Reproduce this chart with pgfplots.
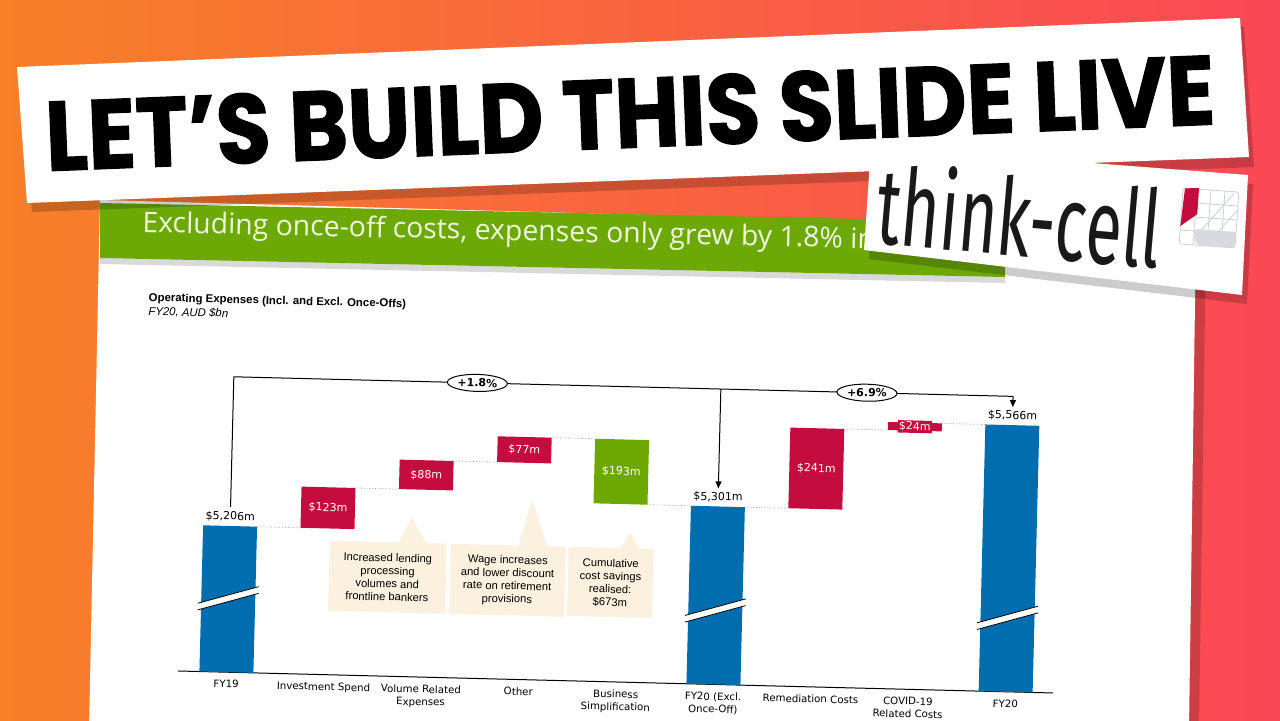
\documentclass[border=0pt]{standalone}
\usepackage{pgfplots}
\pgfplotsset{compat=1.18}
\usepackage{pgfplotstable}
\usepackage{fontspec}
\usetikzlibrary{arrows.meta,shapes.geometric}
\newfontfamily\dv{DejaVu Sans}
\newfontfamily\ls{Liberation Sans}
\newfontfamily\heavy{Poppins}[FakeBold=1.3]
\newfontfamily\fira{Fira Sans}
\newfontfamily\osans{Open Sans}
\definecolor{tcblue}{RGB}{0,109,175}
\definecolor{tcred}{RGB}{197,12,62}
\definecolor{tcgreen}{RGB}{108,168,0}
\definecolor{beige}{RGB}{252,241,222}
\definecolor{bannergreen}{RGB}{108,168,6}
\definecolor{greentext}{RGB}{238,246,220}
\definecolor{bgorange}{RGB}{248,128,40}
\definecolor{bgred}{RGB}{250,72,86}
\definecolor{logogray}{RGB}{205,208,214}
\pgfplotstableread{
x base tot inc dec
0 0 5206 0 0
1 5206 0 123 0
2 5329 0 88 0
3 5417 0 77 0
4 5301 0 0 193
5 0 5301 0 0
6 5301 0 241 0
7 5542 0 24 0
8 0 5566 0 0
}\wf
\pgfplotsset{wfgeom/.style={
  at={(0,0)}, anchor=south west,
  scale only axis, width=437.6pt, height=155.8pt,
  xmin=-0.497, xmax=8.485, ymin=4769, ymax=5700}}
\newsavebox\chartbox
\begin{document}%
\sbox\chartbox{%
\begin{tikzpicture}[x=0.5pt,y=0.5pt]
\path (-60,-50) rectangle (900,400);
\begin{axis}[
  wfgeom,
  ybar stacked, bar width=0.554,
  axis x line*=bottom, axis y line=none,
  x axis line style={-,black,line width=0.5pt},
  xtick={0,...,8},
  xticklabels={FY19, Investment Spend, {Volume Related\\Expenses}, Other, {Business\\Simplification}, {FY20 (Excl.\\Once-Off)}, Remediation Costs, {COVID-19\\Related Costs}, FY20},
  major tick length=0pt,
  xticklabel style={font={\dv\fontsize{5.1}{6.3}\selectfont}, align=center, anchor=north, yshift=-0.5pt},
  ytick=\empty,
]
\addplot[draw=none, fill=none] table[x=x,y=base]{\wf};
\addplot[draw=none, fill=tcblue] table[x=x,y=tot]{\wf};
\addplot[draw=none, fill=tcred] table[x=x,y=inc]{\wf};
\addplot[draw=none, fill=tcgreen] table[x=x,y=dec]{\wf};
\end{axis}
\begin{axis}[wfgeom, hide axis]
\addplot[draw=none] coordinates {(0,5000)};
% connectors
\draw[gray!75, densely dotted, line width=0.4pt] (axis cs:0.277,5206) -- (axis cs:0.723,5206);
\draw[gray!75, densely dotted, line width=0.4pt] (axis cs:1.277,5329) -- (axis cs:1.723,5329);
\draw[gray!75, densely dotted, line width=0.4pt] (axis cs:2.277,5417) -- (axis cs:2.723,5417);
\draw[gray!75, densely dotted, line width=0.4pt] (axis cs:3.277,5494) -- (axis cs:3.723,5494);
\draw[gray!75, densely dotted, line width=0.4pt] (axis cs:4.277,5301) -- (axis cs:4.723,5301);
\draw[gray!75, densely dotted, line width=0.4pt] (axis cs:5.277,5301) -- (axis cs:5.723,5301);
\draw[gray!75, densely dotted, line width=0.4pt] (axis cs:6.277,5542) -- (axis cs:6.723,5542);
\draw[gray!75, densely dotted, line width=0.4pt] (axis cs:7.277,5566) -- (axis cs:7.723,5566);
% axis breaks
\fill[white] (axis cs:-0.31,4953) -- (axis cs:0.31,5007) -- (axis cs:0.31,5027) -- (axis cs:-0.31,4973) -- cycle;
\draw[black,line width=0.4pt] (axis cs:-0.31,4953) -- (axis cs:0.31,5007);
\draw[black,line width=0.4pt] (axis cs:-0.31,4973) -- (axis cs:0.31,5027);
\fill[white] (axis cs:4.69,4953) -- (axis cs:5.31,5007) -- (axis cs:5.31,5027) -- (axis cs:4.69,4973) -- cycle;
\draw[black,line width=0.4pt] (axis cs:4.69,4953) -- (axis cs:5.31,5007);
\draw[black,line width=0.4pt] (axis cs:4.69,4973) -- (axis cs:5.31,5027);
\fill[white] (axis cs:7.69,4953) -- (axis cs:8.31,5007) -- (axis cs:8.31,5027) -- (axis cs:7.69,4973) -- cycle;
\draw[black,line width=0.4pt] (axis cs:7.69,4953) -- (axis cs:8.31,5007);
\draw[black,line width=0.4pt] (axis cs:7.69,4973) -- (axis cs:8.31,5027);
% value labels
\node[above, inner sep=2pt, font={\dv\fontsize{5.5}{6}\selectfont}] at (axis cs:0,5206) {\$5,206m};
\node[above, inner sep=2pt, font={\dv\fontsize{5.5}{6}\selectfont}] at (axis cs:5,5301) {\$5,301m};
\node[above, inner sep=2pt, font={\dv\fontsize{5.5}{6}\selectfont}] at (axis cs:8,5566) {\$5,566m};
\node[text=white, font={\dv\fontsize{5.5}{6}\selectfont}] at (axis cs:1,5267.5) {\$123m};
\node[text=white, font={\dv\fontsize{5.5}{6}\selectfont}] at (axis cs:2,5373) {\$88m};
\node[text=white, font={\dv\fontsize{5.5}{6}\selectfont}] at (axis cs:3,5455.5) {\$77m};
\node[text=white, font={\dv\fontsize{5.5}{6}\selectfont}] at (axis cs:4,5397.5) {\$193m};
\node[text=white, font={\dv\fontsize{5.5}{6}\selectfont}] at (axis cs:6,5421.5) {\$241m};
\node[text=white, fill=tcred, inner sep=0.6pt, font={\dv\fontsize{5.5}{6}\selectfont}] at (axis cs:7,5554) {\$24m};
% brackets
\draw[black, line width=0.5pt] (axis cs:0,5263) -- (axis cs:0,5652) -- (axis cs:8,5652);
\draw[black, line width=0.5pt, -{Triangle[width=3pt,length=3.5pt]}] (axis cs:5,5652) -- (axis cs:5,5355);
\draw[black, line width=0.5pt, -{Triangle[width=3pt,length=3.5pt]}] (axis cs:8,5652) -- (axis cs:8,5620);
\node[ellipse, draw, fill=white, line width=0.5pt, inner sep=0.3pt, minimum width=30pt, minimum height=8.5pt, font={\dv\bfseries\fontsize{5.5}{6}\selectfont}] at (axis cs:2.5,5652) {+1.8\%};
\node[ellipse, draw, fill=white, line width=0.5pt, inner sep=0.3pt, minimum width=30pt, minimum height=8.5pt, font={\dv\bfseries\fontsize{5.5}{6}\selectfont}] at (axis cs:6.5,5652) {+6.9\%};
\end{axis}
\node[anchor=base west, inner sep=0, font={\ls\bfseries\fontsize{5.7}{6.5}\selectfont}] at (-39,369) {Operating Expenses (Incl. and Excl. Once-Offs)};
\node[anchor=base west, inner sep=0, font={\ls\itshape\fontsize{5.7}{6.5}\selectfont}] at (-39,355) {FY20, AUD \$bn};
% callouts
\fill[beige] (148.5,64) rectangle (265.5,134);
\fill[beige] (217,133) -- (246,133) -- (230,159) -- cycle;
\fill[beige] (269.5,64) rectangle (384.5,134);
\fill[beige] (337,133) -- (366,133) -- (350,180) -- cycle;
\fill[beige] (387.5,65) rectangle (472.5,134);
\fill[beige] (439,133) -- (459,133) -- (448.5,150) -- cycle;
\node[align=center, inner sep=0, font={\ls\fontsize{5.6}{6.5}\selectfont}] at (207,99) {Increased lending\\processing\\volumes and\\frontline bankers};
\node[align=center, inner sep=0, font={\ls\fontsize{5.6}{6.5}\selectfont}] at (327,99) {Wage increases\\and lower discount\\rate on retirement\\provisions};
\node[align=center, inner sep=0, font={\ls\fontsize{5.6}{6.5}\selectfont}] at (430,99) {Cumulative\\cost savings\\realised:\\\$673m};
\end{tikzpicture}}%
\begin{tikzpicture}[x=0.5pt,y=0.5pt]
\useasboundingbox (0,0) rectangle (1280,720);
\clip (0,0) rectangle (1280,720);
\shade[left color=bgorange, right color=bgred] (0,0) rectangle (1280,720);
% slide
\fill[black,opacity=0.18] (108,514) -- (1206,484) -- (1199,-10) -- (97,-10) -- cycle;
\fill[white] (100,520) -- (1196,490) -- (1189,-10) -- (89,-10) -- cycle;
% green band
\fill[black,opacity=0.15] (100,462) -- (1005,443) -- (1005,437) -- (100,456) -- cycle;
\fill[bannergreen] (100,517) -- (1005,498) -- (1005,443) -- (100,462) -- cycle;
\node[anchor=base west, rotate=-1.3, inner sep=0, text=greentext, font=\osans\fontsize{14.2}{16}\selectfont] at (142,488) {Excluding once-off costs, expenses only grew by 1.8\% in FY20};
% chart
\node[anchor=south west, inner sep=0, outer sep=0, rotate=-1.44] at (116.76,0.53) {\usebox\chartbox};
% white banner
\fill[black,opacity=0.2] (21,645) -- (1244,694) -- (1254,553) -- (32,508) -- cycle;
\fill[white] (17,653) -- (1240,702) -- (1249,563) -- (27,517) -- cycle;
\node[rotate=2.29, inner sep=0] at (630,607) {\resizebox{585pt}{35pt}{\heavy\bfseries LET’S BUILD THIS SLIDE LIVE}};
% think-cell box
\fill[black,opacity=0.2] (876,565) -- (1253,536) -- (1247,416) -- (869,461) -- cycle;
\fill[white] (871,574) -- (1248,545) -- (1242,425) -- (864,470) -- cycle;
\node[rotate=-5, inner sep=0, text={rgb,255:red,25;green,25;blue,25}] at (1020,505) {\resizebox{142pt}{42pt}{\fira think-cell}};
\begin{scope}[rotate around={-4:(1209,502)}]
\draw[logogray, line width=0.4pt, rounded corners=1.5pt] (1181,530) rectangle (1237,474);
\foreach \g in {1195,1209,1223} \draw[logogray, line width=0.4pt] (\g,530) -- (\g,474);
\foreach \g in {516,502,488} \draw[logogray, line width=0.4pt] (1181,\g) -- (1237,\g);
\draw[logogray, line width=0.4pt] (1195,480) -- (1232,528);
\draw[logogray, line width=0.4pt] (1210,477) -- (1237,512);
\fill[logogray!80] (1194,490) -- (1237,490) -- (1237,477) [rounded corners=2pt] -- (1234,474) -- (1198,474) -- cycle;
\fill[tcred] (1183,530) -- (1197,531) -- (1197,505) -- (1181,492) -- cycle;
\end{scope}
\end{tikzpicture}%
\end{document}
